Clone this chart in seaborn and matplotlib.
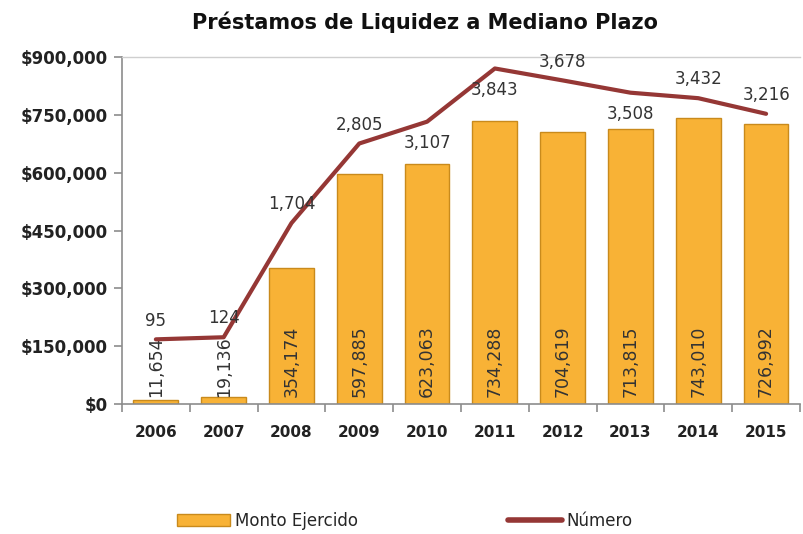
import numpy as np
import pandas as pd
import matplotlib
matplotlib.use("Agg")
import matplotlib.pyplot as plt
import seaborn as sns
from matplotlib.patches import Patch
from matplotlib.lines import Line2D

years = ["2006", "2007", "2008", "2009", "2010", "2011", "2012", "2013", "2014", "2015"]
monto = [11654, 19136, 354174, 597885, 623063, 734288, 704619, 713815, 743010, 726992]
numero = [95, 124, 1704, 2805, 3107, 3843, 3678, 3508, 3432, 3216]
label_above = [True, True, True, True, False, False, True, False, True, True]
yticks = [0, 150000, 300000, 450000, 600000, 750000, 900000]

sns.set_theme(style="white")
plt.rcParams["font.family"] = ["DejaVu Sans"]

df = pd.DataFrame({"year": years, "monto": monto, "numero": numero})

fig = plt.figure(figsize=(8.04, 5.34), dpi=100)
ax = fig.add_axes([0.1517, 0.2434, 0.995 - 0.1517, 0.893 - 0.2434])

bar_color = "#F8B236"
sns.barplot(data=df, x="year", y="monto", color=bar_color, width=0.66,
            edgecolor="#C98A1C", linewidth=1.0, saturation=1, ax=ax)

ax.set_ylim(0, 900000)
ax.set_xlim(-0.5, len(years) - 0.5)
ax.set_yticks(yticks)
ax.set_yticklabels([f"${v:,}" for v in yticks], fontsize=12, fontweight="bold", color="#222222")
ax.set_xlabel("")
ax.set_ylabel("")
ax.set_xticks(range(len(years)))
ax.set_xticklabels(years, fontsize=11, fontweight="bold", color="#222222")
ax.set_xticks(np.arange(-0.5, len(years)), minor=True)
ax.tick_params(axis="x", which="major", length=0, pad=15)
ax.tick_params(axis="x", which="minor", length=6, width=1.2, color="#8c8c8c", bottom=True)
ax.tick_params(axis="y", length=6, width=1.2, color="#8c8c8c", pad=4, left=True)

for side in ["left", "bottom"]:
    ax.spines[side].set_color("#8c8c8c")
    ax.spines[side].set_linewidth(1.2)
ax.spines["top"].set_color("#cfcfcf")
ax.spines["top"].set_linewidth(1.0)
ax.spines["right"].set_visible(False)

# bar value labels, rotated, at the base inside bars
for i, v in enumerate(monto):
    ax.annotate(f"{v:,}", xy=(i, 0), xytext=(0, 5), textcoords="offset points",
                rotation=90, ha="center", va="bottom", fontsize=12.5, color="#333333")

ax2 = ax.twinx()
line_color = "#953735"
sns.lineplot(data=df, x="year", y="numero", color=line_color, linewidth=3.0, sort=False, ax=ax2)
ax2.set_ylim(-800, 4000)
ax2.set_yticks([])
ax2.set_ylabel("")
ax2.set_xlabel("")
for s in ax2.spines.values():
    s.set_visible(False)

for i, (v, up) in enumerate(zip(numero, label_above)):
    off = 13.5 if up else -15.5
    ax2.annotate(f"{v:,}", xy=(i, v), xytext=(0, off), textcoords="offset points",
                 ha="center", va="center", fontsize=12, color="#333333")

fig.text(425 / 804, 1 - 22 / 534, "Préstamos de Liquidez a Mediano Plazo",
         ha="center", va="center", fontsize=15, fontweight="bold", color="#111111")

handles = [Patch(facecolor=bar_color, edgecolor="#C98A1C", label="Monto Ejercido"),
           Line2D([0], [0], color=line_color, linewidth=4, label="Número")]
fig.legend(handles=handles, loc="center", bbox_to_anchor=(405 / 804, 1 - 521 / 534), ncol=2,
           frameon=False, fontsize=12, columnspacing=9, handlelength=3.2, handletextpad=0.3)

fig.savefig("out.png", dpi=100)
